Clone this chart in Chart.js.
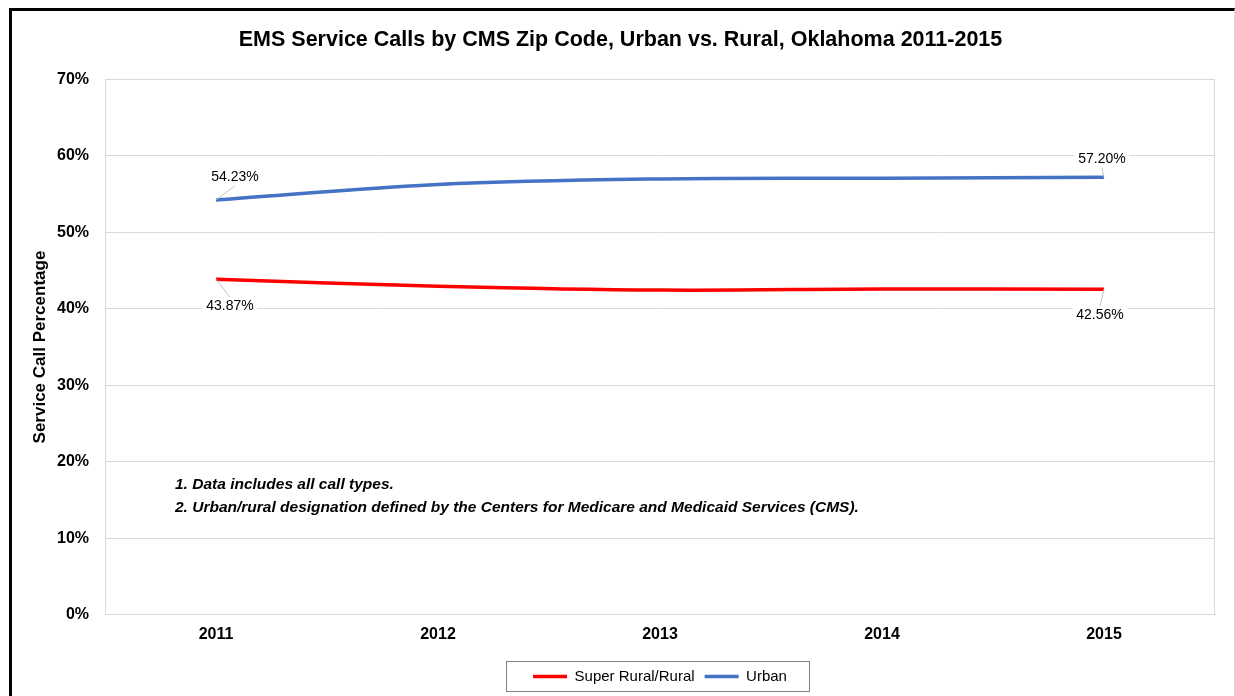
<!DOCTYPE html>
<html>
<head>
<meta charset="utf-8">
<script src="https://cdn.jsdelivr.net/npm/chart.js@4.4.1/dist/chart.umd.min.js"></script>
<style>
  html, body { margin: 0; padding: 0; background: #fff; }
  #wrap { position: relative; width: 1235px; height: 696px; overflow: hidden; }
  #frame {
    position: absolute; left: 9px; top: 8px; width: 1222px; height: 720px;
    border-left: 3px solid #000; border-top: 3px solid #000; border-right: 1px solid #d9d9d9;
    pointer-events: none;
  }
</style>
</head>
<body>
<div id="wrap">
  <canvas id="emsChart" width="1235" height="696"></canvas>
  <div id="frame"></div>
</div>
<script>
// --- Data ---
const years = ['2011', '2012', '2013', '2014', '2015'];
const ruralPct = [43.87, 42.96, 42.45, 42.58, 42.56];
const urbanPct = [54.23, 56.25, 56.98, 57.08, 57.20];
const yTicks = [0, 10, 20, 30, 40, 50, 60, 70];
const notes = [
    '1. Data includes all call types.',
    '2. Urban/rural designation defined by the Centers for Medicare and Medicaid Services (CMS).'
];

const FONT = "'Liberation Sans Narrow', 'Arial Narrow', 'Liberation Sans', Arial, sans-serif";
const NOTE_FONT = "'Liberation Sans', Arial, sans-serif";

// labels on first and last points only, offset from the point
const labelOffsets = {
    0: { first: [14, 27], last: [-4, 26] },
    1: { first: [19, -23], last: [-2, -18] }
};

const pointLabels = {
    id: 'pointLabels',
    beforeDatasetsDraw(chart) {
        // light frame round the plot area
        const a = chart.chartArea, ctx = chart.ctx;
        ctx.save();
        ctx.strokeStyle = '#d9d9d9';
        ctx.lineWidth = 1;
        ctx.strokeRect(Math.round(a.left) + 0.5, Math.round(a.top) + 0.5, Math.round(a.right - a.left) - 1, Math.round(a.bottom - a.top) - 1);
        ctx.restore();
    },
    afterDatasetsDraw(chart) {
        const ctx = chart.ctx;
        ctx.save();
        ctx.font = '14px ' + FONT;
        ctx.textAlign = 'center';
        ctx.textBaseline = 'middle';
        chart.data.datasets.forEach((ds, di) => {
            const meta = chart.getDatasetMeta(di);
            const last = ds.data.length - 1;
            [['first', 0], ['last', last]].forEach(([k, idx]) => {
                const p = meta.data[idx];
                const [dx, dy] = labelOffsets[di][k];
                const tx = p.x + dx, ty = p.y + dy;
                const txt = ds.data[idx].toFixed(2) + '%';
                const w = ctx.measureText(txt).width;
                // leader line
                ctx.strokeStyle = '#bfbfbf';
                ctx.lineWidth = 1;
                ctx.beginPath();
                ctx.moveTo(p.x, p.y);
                ctx.lineTo(tx, ty + (dy < 0 ? 9 : -9));
                ctx.stroke();
                ctx.fillStyle = '#fff';
                ctx.fillRect(tx - w / 2 - 4, ty - 8, w + 8, 16);
                ctx.fillStyle = '#000';
                ctx.fillText(txt, tx, ty);
            });
        });
        ctx.restore();
    }
};

const notesAndLegendBox = {
    id: 'notesAndLegendBox',
    afterLayout(chart) {
        // centre the legend under the plot area
        const L = chart.legend, a = chart.chartArea;
        L.left = a.left;
        L.right = a.right;
        L.width = a.right - a.left;
    },
    afterDraw(chart) {
        const ctx = chart.ctx;
        const area = chart.chartArea;
        ctx.save();
        ctx.font = 'italic bold 15.5px ' + NOTE_FONT;
        ctx.fillStyle = '#000';
        ctx.textBaseline = 'middle';
        ctx.textAlign = 'left';
        notes.forEach((n, i) => ctx.fillText(n, area.left + 70, area.top + 405 + i * 23));

        // box round the legend
        const boxes = chart.legend.legendHitBoxes;
        if (boxes && boxes.length) {
            const l = Math.min(...boxes.map(b => b.left)) - 27;
            const r = Math.max(...boxes.map(b => b.left + b.width)) + 22;
            const t = boxes[0].top - 8;
            const h = boxes[0].height + 15;
            ctx.strokeStyle = '#808080';
            ctx.lineWidth = 1;
            ctx.strokeRect(Math.round(l) + 0.5, Math.round(t) + 0.5, Math.round(r - l), Math.round(h));
        }
        ctx.restore();
    }
};

document.addEventListener('DOMContentLoaded', () => {
    const ctx = document.getElementById('emsChart').getContext('2d');

    new Chart(ctx, {
        type: 'line',
        data: {
            labels: years,
            datasets: [
                {
                    label: 'Super Rural/Rural',
                    data: ruralPct,
                    borderColor: '#ff0000',
                    backgroundColor: '#ff0000',
                    borderWidth: 3.5,
                    pointRadius: 0,
                    tension: 0.35
                },
                {
                    label: 'Urban',
                    data: urbanPct,
                    borderColor: '#4472c4',
                    backgroundColor: '#4472c4',
                    borderWidth: 3.5,
                    pointRadius: 0,
                    tension: 0.35
                }
            ]
        },
        options: {
            responsive: false,
            animation: false,
            layout: { padding: { left: 26, right: 20, top: 14, bottom: 2 } },
            plugins: {
                title: {
                    display: true,
                    text: 'EMS Service Calls by CMS Zip Code, Urban vs. Rural, Oklahoma 2011-2015',
                    color: '#000',
                    font: { family: FONT, size: 21.5, weight: 'bold' },
                    padding: { top: 13, bottom: 26.5 }
                },
                legend: {
                    position: 'bottom',
                    labels: {
                        color: '#000',
                        font: { family: FONT, size: 15 },
                        usePointStyle: true,
                        pointStyle: 'line',
                        pointStyleWidth: 34,
                        padding: 10
                    }
                },
                tooltip: { enabled: false }
            },
            scales: {
                x: {
                    offset: true,
                    grid: { display: false, drawTicks: false },
                    border: { color: '#d9d9d9' },
                    ticks: { color: '#000', padding: 10, font: { family: FONT, size: 16, weight: 'bold' } },
                    afterFit: s => { s.height += 5; }
                },
                y: {
                    min: 0,
                    max: 70,
                    afterBuildTicks: s => { s.ticks = yTicks.map(v => ({ value: v })); },
                    grid: { color: '#d9d9d9', drawTicks: false },
                    border: { color: '#d9d9d9' },
                    ticks: {
                        color: '#000',
                        padding: 16,
                        font: { family: FONT, size: 16, weight: 'bold' },
                        callback: v => v + '%'
                    },
                    title: {
                        display: true,
                        text: 'Service Call Percentage',
                        color: '#000',
                        font: { family: FONT, size: 17, weight: 'bold' },
                        padding: { top: 4, bottom: 4 }
                    },
                    afterFit: s => { s.width = 79; }
                }
            }
        },
        plugins: [pointLabels, notesAndLegendBox]
    });
});
</script>
</body>
</html>
